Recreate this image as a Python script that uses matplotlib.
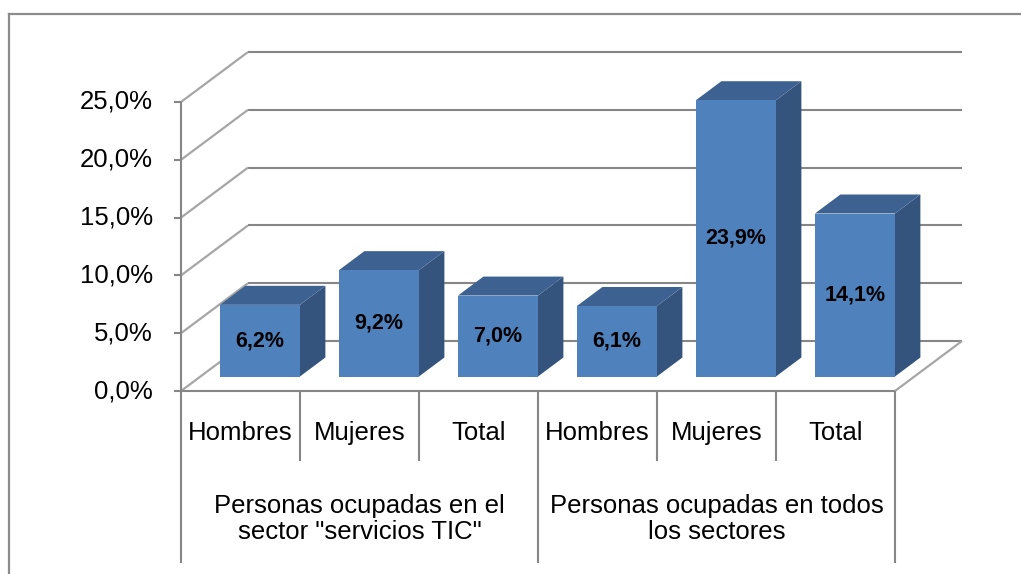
"""Recreate the Excel-style 3D column chart (personas ocupadas, TIC vs todos los sectores)."""

import matplotlib
matplotlib.use("Agg")
import matplotlib.pyplot as plt
from matplotlib.lines import Line2D
from matplotlib.patches import Polygon

plt.rcParams["font.family"] = ["Liberation Sans", "DejaVu Sans"]

# Data
categories = ["Hombres", "Mujeres", "Total", "Hombres", "Mujeres", "Total"]
groups = ["Personas ocupadas en el\nsector \"servicios TIC\"",
          "Personas ocupadas en todos\nlos sectores"]
values = [6.2, 9.2, 7.0, 6.1, 23.9, 14.1]
y_ticks = [0, 5, 10, 15, 20, 25]

# Style
FRONT = "#4F81BD"
TOP = "#3D6291"
SIDE = "#34547E"
GRID = "#868686"
WALL = "#A6A6A6"

W, H = 1021, 574
fig = plt.figure(figsize=(W / 100, H / 100), dpi=100)
fig.patch.set_facecolor("white")

left_px, right_px, top_px, bottom_px = 181, 895, 102, 391
ax = fig.add_axes([left_px / W, 1 - bottom_px / H,
                   (right_px - left_px) / W, (bottom_px - top_px) / H])
n = len(categories)
ax.set_xlim(0, n)
ax.set_ylim(0, 25)
ax.axis("off")

px_x = (right_px - left_px) / n          # px per category
px_y = (bottom_px - top_px) / 25         # px per percent
DX = 67 / px_x                           # depth offset in data units
DY = 50 / px_y
f0, f1 = 0.29, 0.67                      # bar front/back depth fractions
bar_w = 80 / px_x


def line(xs, ys, color=GRID, lw=1.5, z=1):
    ax.add_line(Line2D(xs, ys, color=color, lw=lw, clip_on=False,
                       zorder=z, solid_capstyle="butt"))


# back wall gridlines and left wall lines
for t in y_ticks:
    line([DX, n + DX], [t + DY, t + DY])
    line([0, DX], [t, t + DY], color=WALL, lw=1.6)
    line([-7 / px_x, 0], [t, t])
    ax.text(-28 / px_x, t, f"{t:.1f}%".replace(".", ","), ha="right",
            va="center", fontsize=18.5)

# floor edges and front axes
line([n, n + DX], [0, DY], color=WALL, lw=1.6)
line([0, n], [0, 0], z=2)
line([0, 0], [0, 25], z=2)

# bars
for i, v in enumerate(values):
    x0 = i + 0.5 - bar_w / 2 + f0 * DX
    x1 = x0 + bar_w
    y0 = f0 * DY
    y1 = y0 + v
    dx, dy = (f1 - f0) * DX, (f1 - f0) * DY
    ax.add_patch(Polygon([(x1, y0), (x1 + dx, y0 + dy), (x1 + dx, y1 + dy),
                          (x1, y1)], closed=True, fc=SIDE, ec="none",
                         clip_on=False, zorder=3))
    ax.add_patch(Polygon([(x0, y1), (x1, y1), (x1 + dx, y1 + dy),
                          (x0 + dx, y1 + dy)], closed=True, fc=TOP,
                         ec="none", clip_on=False, zorder=3))
    ax.add_patch(Polygon([(x0, y0), (x1, y0), (x1, y1), (x0, y1)],
                         closed=True, fc=FRONT, ec="none", clip_on=False,
                         zorder=4))
    ax.text((x0 + x1) / 2, (y0 + y1) / 2, f"{v:.1f}%".replace(".", ","),
            ha="center", va="center", fontsize=15.5, fontweight="bold",
            zorder=5)

# category table below the floor
short = -70 / px_y
long_ = -172 / px_y
for k in range(n + 1):
    line([k, k], [0, long_ if k % 3 == 0 else short], z=2)
for i, c in enumerate(categories):
    ax.text(i + 0.5, -42 / px_y, c, ha="center", va="center", fontsize=18.5)
for g, label in enumerate(groups):
    ax.text(g * 3 + 1.5, -128 / px_y, label, ha="center", va="center",
            fontsize=18.5, linespacing=1.1)

# outer chart border (left and top edges visible)
fig.add_artist(Line2D([9 / W, 9 / W], [0, 1 - 14 / H], color="#8C8C8C",
                      lw=1.6, transform=fig.transFigure))
fig.add_artist(Line2D([9 / W, 1], [1 - 14 / H, 1 - 14 / H], color="#8C8C8C",
                      lw=1.6, transform=fig.transFigure))

fig.savefig("out.png", dpi=100)
